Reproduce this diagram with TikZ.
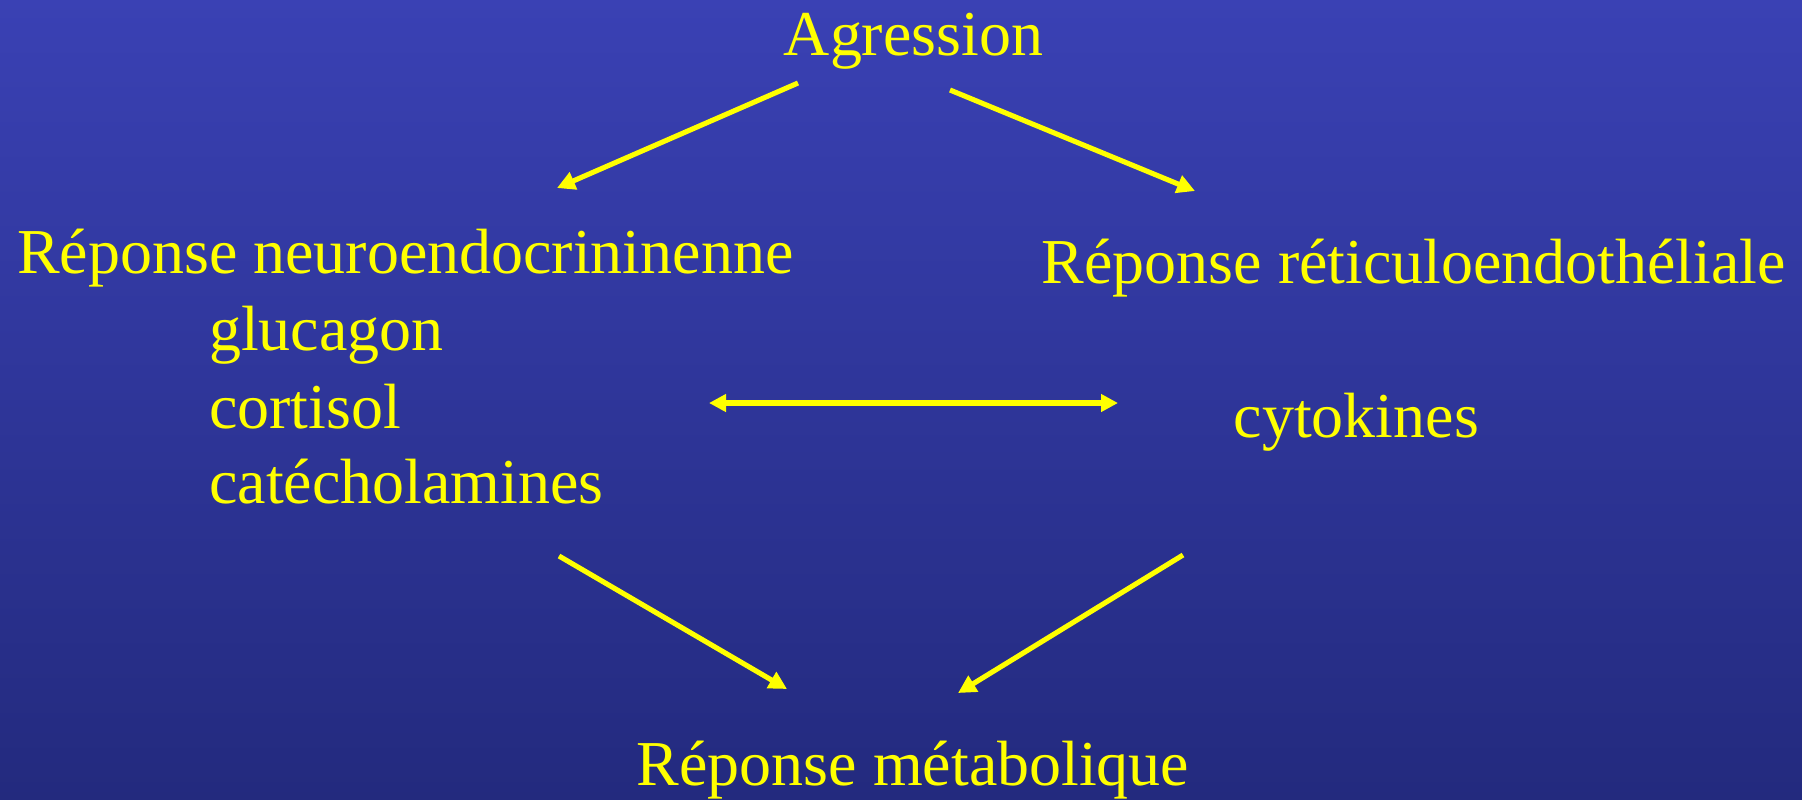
\documentclass[tikz,border=0pt]{standalone}
\usepackage{fontspec}
\setmainfont{Liberation Serif}
\usepackage{tikz}
\usepackage{xcolor}
\usetikzlibrary{arrows.meta}

\definecolor{fondoarriba}{RGB}{58,65,180}
\definecolor{fondoabajo}{RGB}{35,42,126}
\definecolor{amarillo}{RGB}{255,255,0}

\begin{document}
\begin{tikzpicture}[
			 etiqueta/.style={text=amarillo, inner sep=0pt, font=\fontsize{18.2}{22}\selectfont},
			 flecha/.style={draw=amarillo, line width=1.45pt, -{Triangle[length=0.18cm,width=0.18cm]}},
			 flechados/.style={draw=amarillo, line width=1.45pt, {Triangle[length=0.17cm,width=0.17cm]}-{Triangle[length=0.17cm,width=0.17cm]}}
  		]

	%Fondo
		\shade[top color=fondoarriba, bottom color=fondoabajo] (0,0) rectangle (18.02,-7.99);
		\useasboundingbox (0,0) rectangle (18.02,-7.99);

	%Creamos los textos
		\node[etiqueta, anchor=base] (agr) at (9.135,-0.55) {Agression};
		\node[etiqueta, anchor=base west] (neuro) at (0.165,-2.73) {Réponse neuroendocrininenne};
		\node[etiqueta, anchor=base west] (gluc) at (2.085,-3.50) {glucagon};
		\node[etiqueta, anchor=base west] (cort) at (2.085,-4.28) {cortisol};
		\node[etiqueta, anchor=base west] (catec) at (2.085,-5.03) {catécholamines};
		\node[etiqueta, anchor=base west] (reticulo) at (10.41,-2.83) {Réponse réticuloendothéliale};
		\node[etiqueta, anchor=base west] (cyto) at (12.33,-4.37) {cytokines};
		\node[etiqueta, anchor=base] (meta) at (9.13,-7.85) {Réponse métabolique};

	%Flechas desde la agresion
		\draw[flecha] ([shift={(-1.155,-0.28)}]agr.base) -- ([shift={(5.405,0.85)}]neuro.base west);
		\draw[flecha] ([shift={(0.365,-0.35)}]agr.base) -- ([shift={(1.54,0.92)}]reticulo.base west);
	%Flecha doble entre las respuestas
		\draw[flechados] ([shift={(5.005,0.25)}]cort.base west) -- ([shift={(-1.15,0.34)}]cyto.base west);
	%Flechas hacia la respuesta metabolica
		\draw[flecha] ([shift={(3.505,-0.53)}]catec.base west) -- ([shift={(-1.26,0.96)}]meta.base);
		\draw[flecha] ([shift={(-0.50,-1.18)}]cyto.base west) -- ([shift={(0.45,0.92)}]meta.base);

\end{tikzpicture}
\end{document}
